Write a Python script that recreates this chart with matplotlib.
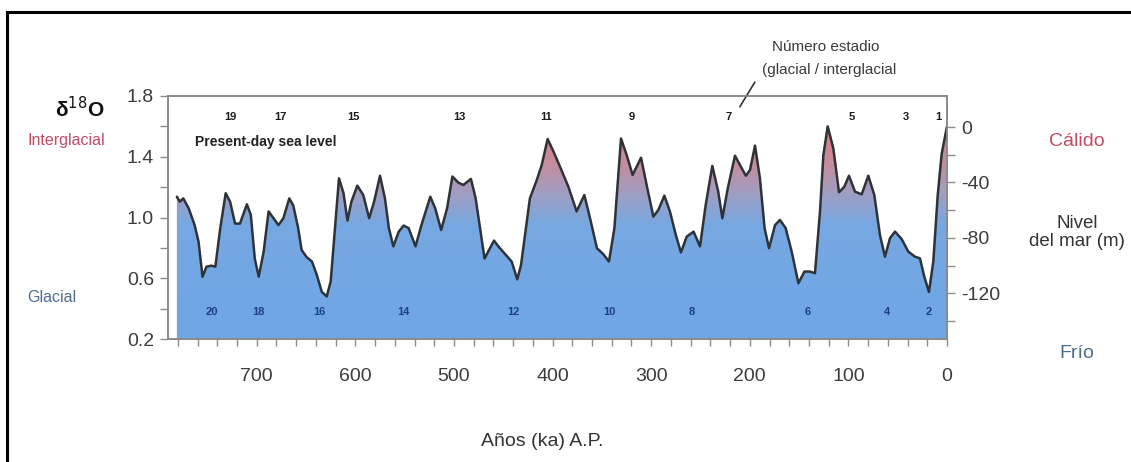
import numpy as np
import matplotlib
import matplotlib.pyplot as plt
from matplotlib.colors import LinearSegmentedColormap
from matplotlib.lines import Line2D

matplotlib.use('Agg')
plt.rcParams['font.family'] = ['Liberation Sans', 'DejaVu Sans']
plt.rcParams['axes.unicode_minus'] = False

# benthic d18O stack (inverted scale), ka before present
ages = [781, 778, 774.5, 769, 763, 759, 755, 751, 746, 742, 737, 731.5, 727, 722, 717,
        710, 706, 702, 698, 693, 688, 683, 678, 673, 667, 663, 658, 654.5, 649.5, 644,
        639, 634, 629, 625, 620.7, 616.6, 612, 608, 604, 598, 592, 586, 581, 575, 570,
        566, 561.5, 556, 551, 546, 539, 533, 524, 519, 513, 507, 501.6, 495.6, 490.5,
        482.8, 478, 473.6, 469, 464.5, 459.4, 455, 448, 441.5, 435.8, 432, 427, 423,
        416, 411, 405, 399, 392.5, 384, 375.6, 367.8, 362, 355, 348.5, 342.8, 337.3,
        330.6, 324.8, 318.8, 310.3, 304.6, 297.8, 292.7, 286.6, 281, 275, 269.8, 264,
        257, 250.5, 244.7, 238, 232, 227.8, 222.4, 215, 210, 204, 199.8, 194.7, 189.7,
        185, 180.5, 174.4, 169.4, 163.6, 157.5, 150.7, 144.6, 139, 133.9, 128.8, 125.4,
        121, 115.3, 109.5, 104.1, 99.4, 93.3, 86.5, 79.8, 73.7, 68, 62.9, 57.8, 52.7,
        46, 39.2, 32.5, 27.4, 23, 18.3, 13.9, 9.4, 5.4, 0]
d18o = [1.137, 1.104, 1.126, 1.06, 0.95, 0.84, 0.61, 0.676, 0.683, 0.676, 0.93, 1.16,
        1.104, 0.96, 0.96, 1.087, 1.017, 0.73, 0.61, 0.775, 1.04, 0.995, 0.95, 0.995,
        1.126, 1.08, 0.93, 0.786, 0.74, 0.71, 0.62, 0.51, 0.48, 0.58, 0.93, 1.258, 1.16,
        0.98, 1.104, 1.21, 1.148, 0.995, 1.104, 1.275, 1.126, 0.93, 0.81, 0.907, 0.947,
        0.93, 0.81, 0.95, 1.137, 1.06, 0.918, 1.06, 1.27, 1.23, 1.214, 1.254, 1.126,
        0.93, 0.73, 0.786, 0.848, 0.81, 0.758, 0.71, 0.593, 0.687, 0.93, 1.126, 1.247,
        1.346, 1.517, 1.433, 1.335, 1.203, 1.04, 1.148, 0.995, 0.798, 0.758, 0.71, 0.93,
        1.52, 1.41, 1.28, 1.394, 1.214, 1.006, 1.05, 1.144, 1.04, 0.885, 0.77, 0.874,
        0.907, 0.81, 1.083, 1.34, 1.17, 0.995, 1.19, 1.407, 1.346, 1.275, 1.313, 1.473,
        1.258, 0.93, 0.798, 0.95, 0.984, 0.93, 0.775, 0.567, 0.644, 0.644, 0.633, 1.04,
        1.41, 1.60, 1.456, 1.166, 1.203, 1.275, 1.17, 1.153, 1.275, 1.148, 0.885, 0.742,
        0.864, 0.907, 0.858, 0.775, 0.742, 0.731, 0.61, 0.51, 0.71, 1.148, 1.42, 1.60]

# marine isotope stages
odd_stages = ['19', '17', '15', '13', '11', '9', '7', '5', '3', '1']
odd_ages = [727, 676, 602, 495, 407, 320, 221, 97, 42, 9]
even_stages = ['20', '18', '16', '14', '12', '10', '8', '6', '4', '2']
even_ages = [746, 698, 636, 551, 440, 342, 259, 141, 61, 19]

left_ticks = [1.8, 1.4, 1.0, 0.6, 0.2]
sea_ticks = [0, -40, -80, -120]
age_ticks = [700, 600, 500, 400, 300, 200, 100, 0]

W, H = 1131, 462
fig = plt.figure(figsize=(W / 100, H / 100), dpi=100)
ax = fig.add_axes([168 / W, 1 - 339 / H, (947 - 168) / W, (339 - 96) / H])

x = np.array(ages)
y = np.array(d18o)
ymin, ymax = 0.2, 1.8

# fill under curve with a blue -> warm vertical gradient
cmap = LinearSegmentedColormap.from_list('warmcold', [
    (0.0, '#6fa6e6'), (0.47, '#76a8e2'), (0.58, '#9aa0c8'),
    (0.72, '#c48d9e'), (0.88, '#dc7f7c'), (1.0, '#e47868')])
poly = ax.fill_between(x, ymin, y, color='none', lw=0)
grad = np.linspace(0, 1, 256).reshape(-1, 1)
img = ax.imshow(grad, cmap=cmap, origin='lower', aspect='auto',
                extent=[782, 0, ymin, ymax], zorder=1)
img.set_clip_path(poly.get_paths()[0], transform=ax.transData)
ax.plot(x, y, color='#2e3338', lw=1.8, solid_joinstyle='round',
        solid_capstyle='round', zorder=3)

ax.set_xlim(790, 0)
ax.set_ylim(ymin, ymax)

spine_c = '#8a8a8a'
for s in ax.spines.values():
    s.set_color(spine_c)
    s.set_linewidth(1.2)

ax.set_yticks(left_ticks)
ax.set_yticklabels([f'{v:.1f}' for v in left_ticks])
ax.set_yticks(np.arange(0.2, 1.81, 0.2), minor=True)
ax.set_xticks(age_ticks)
ax.set_xticks(np.arange(0, 781, 20), minor=True)
ax.tick_params(axis='y', which='both', direction='out', length=6, width=1,
               color=spine_c, labelsize=14, labelcolor='#3c3c3c', pad=4)
ax.tick_params(axis='x', which='both', direction='out', length=5, width=1,
               color=spine_c, labelsize=14, labelcolor='#3c3c3c', pad=16)

ax2 = ax.twinx()
ax2.set_ylim(-153, 22.4)
ax2.set_yticks(sea_ticks)
ax2.set_yticks(np.arange(-140, 1, 20), minor=True)
ax2.tick_params(axis='y', which='both', direction='out', length=6, width=1,
                color=spine_c, labelsize=14, labelcolor='#3c3c3c', pad=4)
for s in ax2.spines.values():
    s.set_color(spine_c)
    s.set_linewidth(1.2)

# stage numbers
for lab, a in zip(odd_stages, odd_ages):
    ax.text(a, 1.664, lab, ha='center', va='center', fontsize=8,
            fontweight='bold', color='#1a1a1a', zorder=4)
for lab, a in zip(even_stages, even_ages):
    ax.text(a, 0.376, lab, ha='center', va='center', fontsize=8,
            fontweight='bold', color='#1c3f86', zorder=4)

ax.text(763, 1.5, 'Present-day sea level', ha='left', va='center', fontsize=10,
        fontweight='bold', color='#222222', zorder=4)

ax.plot([195, 210], [1.89, 1.73], color='#333333', lw=1.2, clip_on=False, zorder=4)
fig.text(826 / W, 1 - 47 / H, 'Número estadio', ha='center', va='center',
         fontsize=11, color='#3a3a3a')
fig.text(829 / W, 1 - 70 / H, '(glacial / interglacial', ha='center', va='center',
         fontsize=11, color='#3a3a3a')

# side labels
fig.text(80 / W, 1 - 109 / H, 'δ$^{18}$O', ha='center', va='center',
         fontsize=15, fontweight='bold', color='#111111')
fig.text(66 / W, 1 - 140 / H, 'Interglacial', ha='center', va='center',
         fontsize=11.5, color='#c24a62')
fig.text(52 / W, 1 - 297 / H, 'Glacial', ha='center', va='center',
         fontsize=11.5, color='#4e6d92')
fig.text(1077 / W, 1 - 142 / H, 'Cálido', ha='center', va='center',
         fontsize=14, color='#c24a62')
fig.text(1077 / W, 1 - 224 / H, 'Nivel', ha='center', va='center',
         fontsize=13.5, color='#333333')
fig.text(1077 / W, 1 - 242 / H, 'del mar (m)', ha='center', va='center',
         fontsize=13.5, color='#333333')
fig.text(1077 / W, 1 - 353 / H, 'Frío', ha='center', va='center',
         fontsize=14, color='#4e6d92')
fig.text(542 / W, 1 - 441 / H, 'Años (ka) A.P.', ha='center', va='center',
         fontsize=14, color='#333333')

# outer frame (top and left edges)
fig.add_artist(Line2D([7 / W, 1], [1 - 12 / H, 1 - 12 / H], color='black', lw=2.2))
fig.add_artist(Line2D([7 / W, 7 / W], [0, 1 - 12 / H], color='black', lw=2.2))

fig.savefig('out.png', dpi=100)
